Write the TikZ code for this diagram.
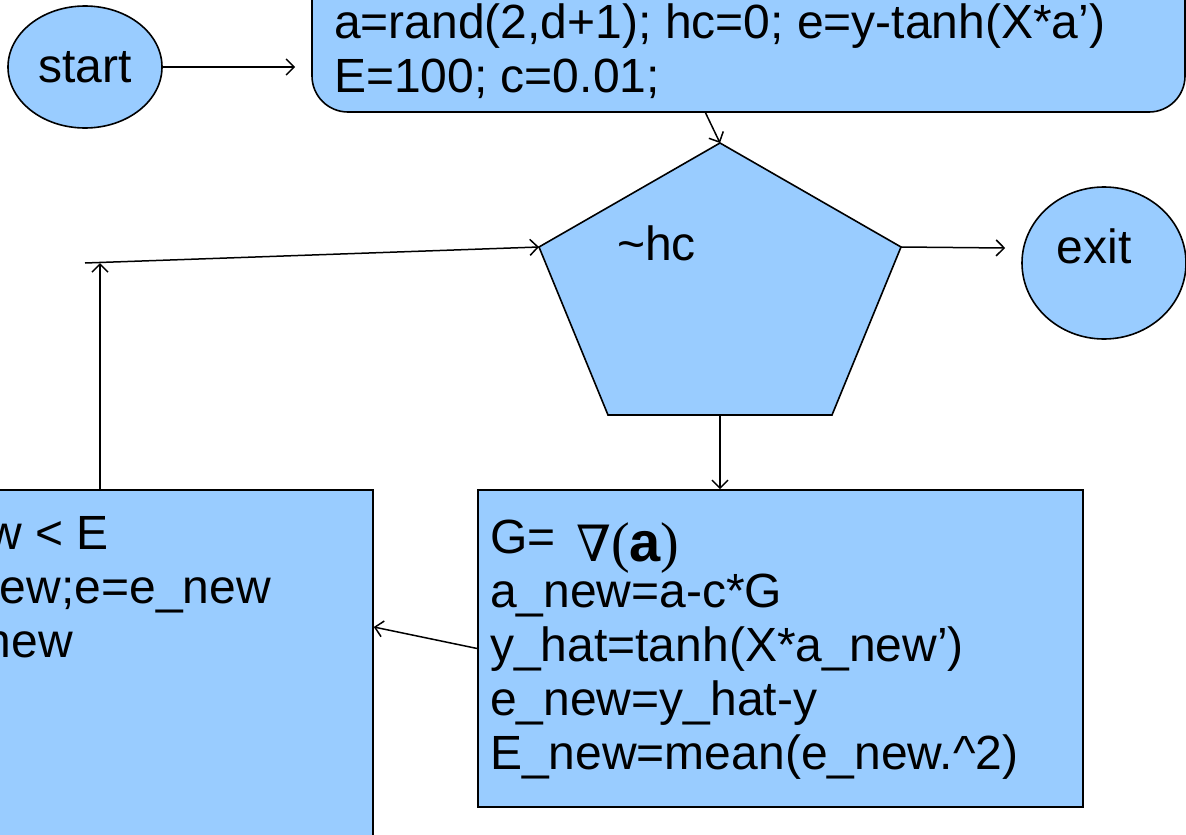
\documentclass[tikz,border=0pt]{standalone}
\usepackage{fontspec}
\setmainfont{Liberation Sans}
\newfontfamily\nabfont{DejaVu Serif}
\newfontfamily\parfont{Liberation Serif}
\usetikzlibrary{shapes.geometric,arrows.meta}
\definecolor{boxblue}{HTML}{99CCFF}
\tikzset{
  blk/.style={draw=black, fill=boxblue, line width=1.6pt, inner sep=0pt},
  oval/.style={blk, ellipse},
  txt/.style={inner sep=0pt, font=\fontsize{48}{54}\selectfont},
  arr/.style={-{Straight Barb[length=8pt,width=16pt]}, line width=1.5pt}
}
\begin{document}
\begin{tikzpicture}[x=1pt,y=-1pt]
\useasboundingbox (0,0) rectangle (1186,835);
\clip (0,0) rectangle (1186,835);
% boxes and ovals
\node[blk, rounded corners=36pt, minimum width=873pt, minimum height=212pt] (init) at (748.5,6) {};
\node[blk, minimum width=605pt, minimum height=317pt] (grad) at (780.5,648.5) {};
\node[blk, minimum width=673pt, minimum height=610pt] (upd) at (36.5,795) {};
\node[oval, txt, minimum width=154pt, minimum height=122pt] (start) at (85,67) {start};
\node[oval, minimum width=164pt, minimum height=152pt] (exit) at (1104,263) {};
\node[txt] (exitlbl) at (1094,246) {exit};
% pentagon
\coordinate (ptop) at (720,143);
\coordinate (pright) at (901,247);
\coordinate (pbr) at (832,415);
\coordinate (pbl) at (608,415);
\coordinate (pleft) at (539,247);
\coordinate (pbot) at (720,415);
\draw[blk] (ptop) -- (pright) -- (pbr) -- (pbl) -- (pleft) -- cycle;
\node[txt, anchor=base west] (hc) at (617,260) {\textasciitilde hc};
% texts
\foreach \s [count=\i from 0] in {{a=rand(2,d+1); hc=0; e=y-tanh(X*a’)},{E=100; c=0.01;}}
  \node[txt, anchor=base west] (init\i) at (334,38+54*\i) {\s};
\node[txt, anchor=base west] (g0) at (490,553) {G=};
\node[txt, anchor=base west] (nabla) at (576,561) {{\nabfont\fontsize{50}{50}\selectfont ∇}{\parfont\fontsize{56}{56}\selectfont(}{\fontsize{56}{56}\selectfont\bfseries a}{\parfont\fontsize{56}{56}\selectfont)}};
\foreach \s [count=\i] in {{a\_new=a-c*G},{y\_hat=tanh(X*a\_new’)},{e\_new=y\_hat-y},{E\_new=mean(e\_new.\textasciicircum 2)}}
  \node[txt, anchor=base west] (g\i) at (490,553+54*\i) {\s};
\foreach \xr/\yb/\s [count=\i] in {109/549/{w < E},271/603/{ew;e=e\_new},73/657/{new}}
  \node[txt, anchor=base east] (u\i) at (\xr,\yb) {\s};
% connectors
\coordinate (loopup) at (100,263);
\coordinate (loopin) at (85,263);
\draw[arr] (start.east) -- ([xshift=-16pt]init.west |- start.east);
\draw[arr] ([xshift=-43pt]init.south) -- (ptop);
\draw[arr] (pright) -- ([xshift=-16pt,yshift=15pt]exit.west);
\draw[arr] (pbot) -- (pbot |- grad.north);
\draw[arr] (grad.west) -- ([yshift=168pt]upd.east);
\draw[arr] (upd.north -| loopup) -- (loopup);
\draw[arr] (loopin) -- (pleft);
\end{tikzpicture}
\end{document}
